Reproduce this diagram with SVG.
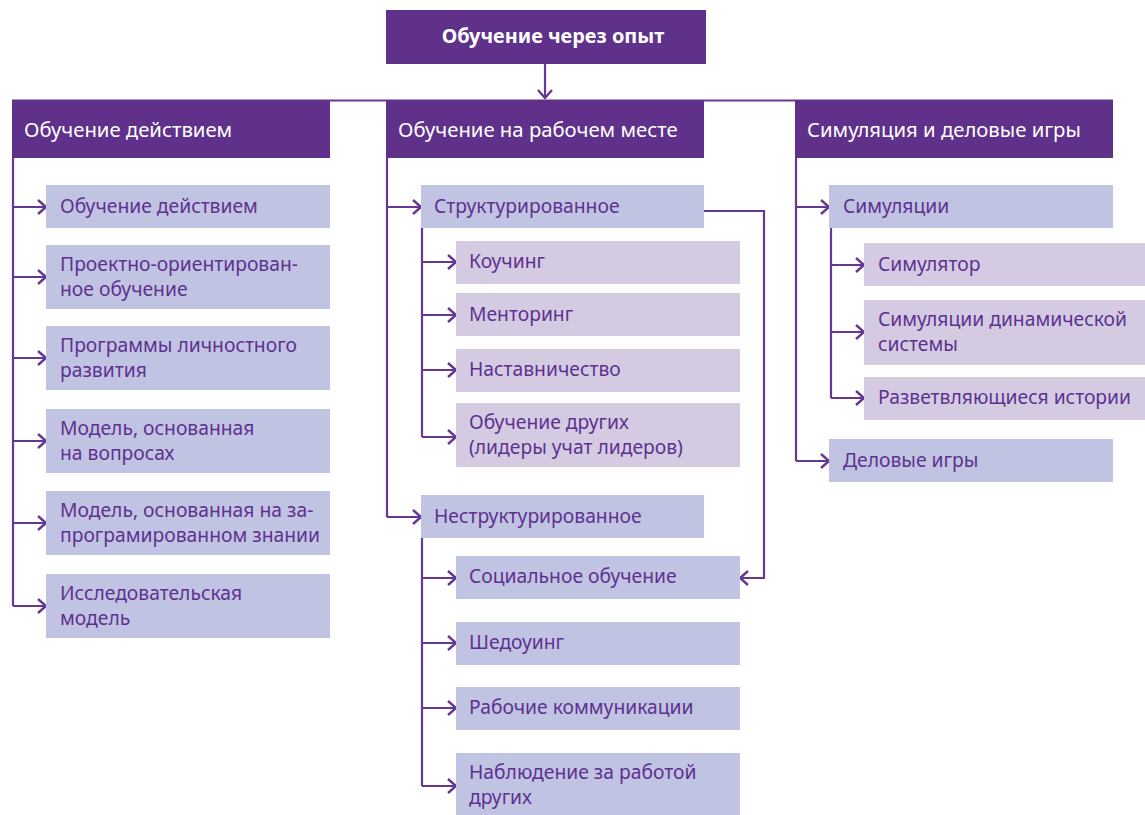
<svg xmlns="http://www.w3.org/2000/svg" width="1145" height="815" viewBox="0 0 1145 815">
<style>
.hdr{fill:#60318B}
.b{fill:#C1C3E2}
.p{fill:#D4CBE3}
.ht{font-family:"Noto Sans","Liberation Sans",sans-serif;font-size:20.3px;fill:#ffffff}
.tt{font-family:"Noto Sans","Liberation Sans",sans-serif;font-size:19.9px;font-weight:bold;fill:#ffffff}
.t{font-family:"Noto Sans","Liberation Sans",sans-serif;font-size:19.3px;fill:#5E3190}
.c{fill:none;stroke:#663896;stroke-width:2.2}
</style>
<defs>
<marker id="ar" markerUnits="userSpaceOnUse" markerWidth="12" markerHeight="18" refX="10" refY="8" orient="auto" viewBox="0 0 12 16">
<path d="M2,1 L10,8 L2,15" fill="none" stroke="#663896" stroke-width="2.4"/>
</marker>
</defs>
<rect width="1145" height="815" fill="#ffffff"/>
<g id="connectors">
<path class="c" d="M12,100.5 H1113"/>
<path class="c" d="M545,64 V98" marker-end="url(#ar)"/>
<path class="c" d="M13,158 V606"/>
<path class="c" d="M13,207 H46" marker-end="url(#ar)"/>
<path class="c" d="M13,277 H46" marker-end="url(#ar)"/>
<path class="c" d="M13,358 H46" marker-end="url(#ar)"/>
<path class="c" d="M13,441 H46" marker-end="url(#ar)"/>
<path class="c" d="M13,523 H46" marker-end="url(#ar)"/>
<path class="c" d="M13,606 H46" marker-end="url(#ar)"/>
<path class="c" d="M387,158 V517"/>
<path class="c" d="M387,207 H421" marker-end="url(#ar)"/>
<path class="c" d="M387,517 H421" marker-end="url(#ar)"/>
<path class="c" d="M422,228 V437"/>
<path class="c" d="M422,262 H456" marker-end="url(#ar)"/>
<path class="c" d="M422,315 H456" marker-end="url(#ar)"/>
<path class="c" d="M422,370 H456" marker-end="url(#ar)"/>
<path class="c" d="M422,437 H456" marker-end="url(#ar)"/>
<path class="c" d="M422,538 V786"/>
<path class="c" d="M422,578 H456" marker-end="url(#ar)"/>
<path class="c" d="M422,643 H456" marker-end="url(#ar)"/>
<path class="c" d="M422,708 H456" marker-end="url(#ar)"/>
<path class="c" d="M422,786 H456" marker-end="url(#ar)"/>
<path class="c" d="M704,211 H764 V578 H740" marker-end="url(#ar)"/>
<path class="c" d="M796,158 V461"/>
<path class="c" d="M796,207 H829" marker-end="url(#ar)"/>
<path class="c" d="M796,461 H829" marker-end="url(#ar)"/>
<path class="c" d="M831,228 V398"/>
<path class="c" d="M831,265 H864" marker-end="url(#ar)"/>
<path class="c" d="M831,332 H864" marker-end="url(#ar)"/>
<path class="c" d="M831,398 H864" marker-end="url(#ar)"/>
</g>
<g id="root"><rect class="hdr" x="386" y="10" width="320" height="54"/><text class="tt" x="553" y="35" text-anchor="middle" dominant-baseline="central">Обучение через опыт</text></g>
<g id="h1"><rect class="hdr" x="12" y="100" width="318" height="58"/><text class="ht" x="24" y="129" dominant-baseline="central">Обучение действием</text></g>
<g id="h2"><rect class="hdr" x="386" y="100" width="318" height="58"/><text class="ht" x="398" y="129" dominant-baseline="central">Обучение на рабочем месте</text></g>
<g id="h3"><rect class="hdr" x="795" y="100" width="318" height="58"/><text class="ht" x="807" y="129" dominant-baseline="central">Симуляция и деловые игры</text></g>

<g id="l1"><rect class="b" x="46" y="185" width="284" height="43"/><text class="t" x="60" y="205" dominant-baseline="central">Обучение действием</text></g>
<g id="l2"><rect class="b" x="46" y="245" width="284" height="64"/><text class="t" x="60" y="263" dominant-baseline="central">Проектно-ориентирован-</text><text class="t" x="60" y="288" dominant-baseline="central">ное обучение</text></g>
<g id="l3"><rect class="b" x="46" y="326" width="284" height="64"/><text class="t" x="60" y="344" dominant-baseline="central">Программы личностного</text><text class="t" x="60" y="369" dominant-baseline="central">развития</text></g>
<g id="l4"><rect class="b" x="46" y="409" width="284" height="64"/><text class="t" x="60" y="427" dominant-baseline="central">Модель, основанная</text><text class="t" x="60" y="452" dominant-baseline="central">на вопросах</text></g>
<g id="l5"><rect class="b" x="46" y="491" width="284" height="64"/><text class="t" x="60" y="509" dominant-baseline="central">Модель, основанная на за-</text><text class="t" x="60" y="534" dominant-baseline="central">програмированном знании</text></g>
<g id="l6"><rect class="b" x="46" y="574" width="284" height="64"/><text class="t" x="60" y="592" dominant-baseline="central">Исследовательская</text><text class="t" x="60" y="617" dominant-baseline="central">модель</text></g>

<g id="m1"><rect class="b" x="421" y="185" width="283" height="43"/><text class="t" x="434" y="205" dominant-baseline="central">Структурированное</text></g>
<g id="m11"><rect class="p" x="456" y="241" width="284" height="43"/><text class="t" x="469" y="260" dominant-baseline="central">Коучинг</text></g>
<g id="m12"><rect class="p" x="456" y="293" width="284" height="43"/><text class="t" x="469" y="313" dominant-baseline="central">Менторинг</text></g>
<g id="m13"><rect class="p" x="456" y="349" width="284" height="43"/><text class="t" x="469" y="368" dominant-baseline="central">Наставничество</text></g>
<g id="m14"><rect class="p" x="456" y="403" width="284" height="64"/><text class="t" x="469" y="421" dominant-baseline="central">Обучение других</text><text class="t" x="469" y="446" dominant-baseline="central">(лидеры учат лидеров)</text></g>
<g id="m2"><rect class="b" x="421" y="495" width="283" height="43"/><text class="t" x="434" y="515" dominant-baseline="central">Неструктурированное</text></g>
<g id="m21"><rect class="b" x="456" y="556" width="284" height="43"/><text class="t" x="469" y="575" dominant-baseline="central">Социальное обучение</text></g>
<g id="m22"><rect class="b" x="456" y="622" width="284" height="43"/><text class="t" x="469" y="641" dominant-baseline="central">Шедоуинг</text></g>
<g id="m23"><rect class="b" x="456" y="687" width="284" height="43"/><text class="t" x="469" y="706" dominant-baseline="central">Рабочие коммуникации</text></g>
<g id="m24"><rect class="b" x="456" y="753" width="284" height="62"/><text class="t" x="469" y="771" dominant-baseline="central">Наблюдение за работой</text><text class="t" x="469" y="796" dominant-baseline="central">других</text></g>

<g id="r1"><rect class="b" x="829" y="185" width="284" height="43"/><text class="t" x="843" y="205" dominant-baseline="central">Симуляции</text></g>
<g id="r11"><rect class="p" x="864" y="243" width="281" height="43"/><text class="t" x="878" y="263" dominant-baseline="central">Симулятор</text></g>
<g id="r12"><rect class="p" x="864" y="300" width="281" height="65"/><text class="t" x="878" y="318" dominant-baseline="central">Симуляции динамической</text><text class="t" x="878" y="343" dominant-baseline="central">системы</text></g>
<g id="r13"><rect class="p" x="864" y="377" width="281" height="43"/><text class="t" x="878" y="396" dominant-baseline="central">Разветвляющиеся истории</text></g>
<g id="r2"><rect class="b" x="829" y="439" width="284" height="43"/><text class="t" x="843" y="459" dominant-baseline="central">Деловые игры</text></g>
</svg>
